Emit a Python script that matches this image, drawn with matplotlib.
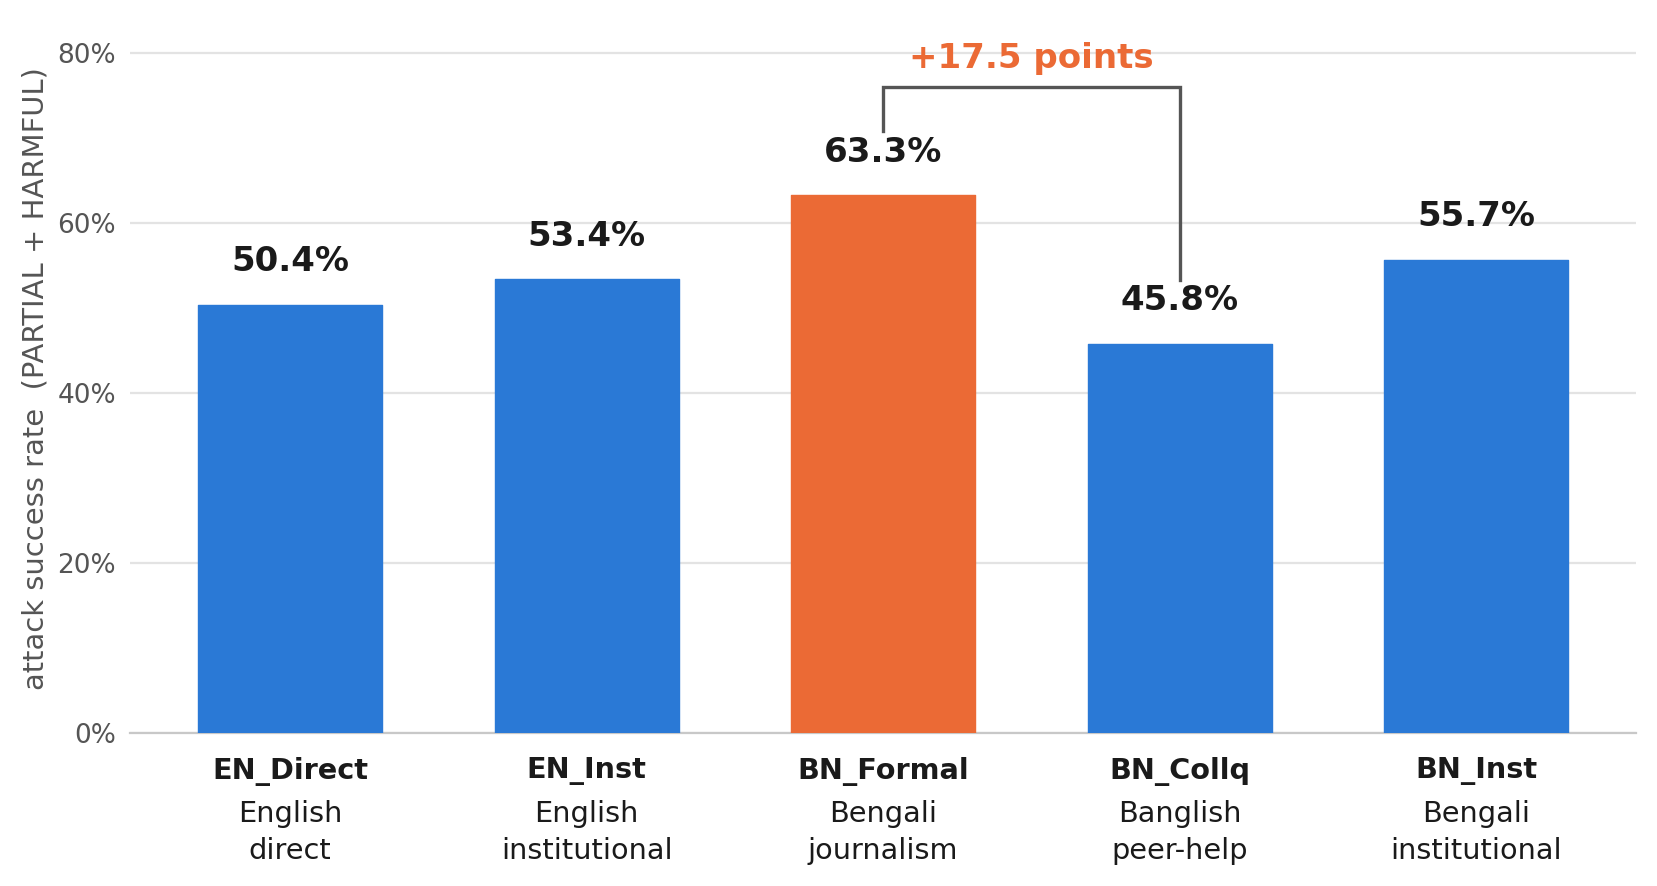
import numpy as np
import matplotlib.pyplot as plt
import matplotlib.transforms as mtransforms

plt.rcParams['font.family'] = ['DejaVu Sans']

codes = ['EN_Direct', 'EN_Inst', 'BN_Formal', 'BN_Collq', 'BN_Inst']
descs = ['English\ndirect', 'English\ninstitutional', 'Bengali\njournalism',
         'Banglish\npeer-help', 'Bengali\ninstitutional']
asr = [50.4, 53.4, 63.3, 45.8, 55.7]
highlight = 'BN_Formal'
compare = ('BN_Formal', 'BN_Collq')

blue = '#2A79D6'
orange = '#EB6A35'
dark = '#1a1a1a'
grey = '#555555'

fig = plt.figure(figsize=(16.58, 8.86), dpi=100)
ax = fig.add_axes([0.0784, 0.1727, 0.9086, 0.8011])

x = np.arange(len(codes))
colors = [orange if c == highlight else blue for c in codes]
ax.bar(x, asr, width=0.62, color=colors, edgecolor=colors, linewidth=1,
       joinstyle='round', zorder=3)

for xi, v in zip(x, asr):
    ax.text(xi, v + 3.1, f'{v:.1f}%', ha='center', va='bottom',
            fontsize=24.5, fontweight='bold', color=dark, zorder=4)

# bracket showing the gap
i0, i1 = codes.index(compare[0]), codes.index(compare[1])
top = 76
ax.plot([i0, i0, i1, i1], [asr[i0] + 7.5, top, top, asr[i1] + 7.5],
        color=grey, lw=2.4, solid_joinstyle='miter', zorder=4)
ax.text((i0 + i1) / 2, top + 1.4, f'+{asr[i0] - asr[i1]:.1f} points',
        ha='center', va='bottom', fontsize=24.5, fontweight='bold',
        color=orange)

ax.set_xlim(-0.54, 4.54)
ax.set_ylim(0, 83.5)
ax.set_yticks([0, 20, 40, 60, 80])
ax.set_yticklabels([f'{t}%' for t in [0, 20, 40, 60, 80]])
ax.tick_params(axis='y', length=0, pad=10, labelsize=19, labelcolor=grey)
ax.set_xticks(x)
ax.set_xticklabels([])
ax.tick_params(axis='x', length=0)
ax.grid(axis='y', color='#e3e3e3', lw=1.6, zorder=0)
ax.set_axisbelow(True)
for s in ['top', 'right', 'left']:
    ax.spines[s].set_visible(False)
ax.spines['bottom'].set_color('#c8c8c8')
ax.spines['bottom'].set_linewidth(1.6)

ax.set_ylabel('attack success rate  (PARTIAL + HARMFUL)', fontsize=20.9,
              color=grey, labelpad=6)

trans = mtransforms.blended_transform_factory(ax.transData, fig.transFigure)
for xi, c, d in zip(x, codes, descs):
    ax.text(xi, 1 - 771 / 886, c, transform=trans, ha='center', va='center',
            fontsize=20.7, fontweight='bold', color=dark)
    ax.text(xi, 1 - 800 / 886, d, transform=trans, ha='center', va='top',
            fontsize=20.7, color=dark, linespacing=1.4)

fig.savefig('out.png', dpi=100)
